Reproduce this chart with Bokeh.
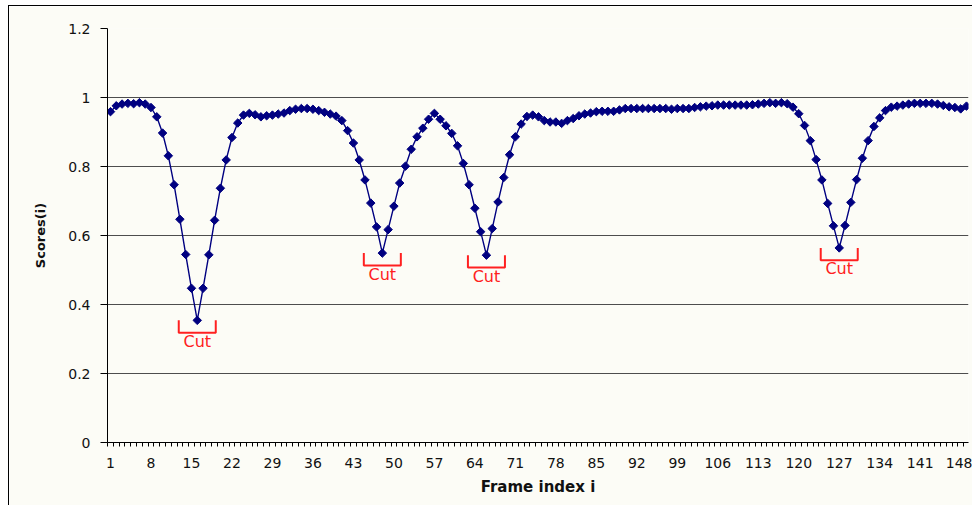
from bokeh.plotting import figure
from bokeh.models import FixedTicker, CustomJSTickFormatter, ColumnDataSource, Range1d
from bokeh.core.properties import value
from bokeh.embed import file_html
from bokeh.resources import INLINE

# ---- data ----
frames = list(range(1, 150))
scores = [
    0.959, 0.976, 0.981, 0.983, 0.982, 0.985, 0.981, 0.971, 0.944, 0.897,
    0.831, 0.747, 0.647, 0.545, 0.447, 0.354, 0.447, 0.544, 0.644, 0.737,
    0.819, 0.884, 0.926, 0.949, 0.954, 0.950, 0.944, 0.947, 0.949, 0.952,
    0.955, 0.962, 0.966, 0.968, 0.968, 0.966, 0.962, 0.957, 0.952, 0.946,
    0.933, 0.904, 0.868, 0.819, 0.761, 0.694, 0.625, 0.549, 0.617, 0.685,
    0.752, 0.801, 0.850, 0.886, 0.911, 0.937, 0.954, 0.937, 0.918, 0.896,
    0.860, 0.809, 0.747, 0.679, 0.611, 0.543, 0.620, 0.697, 0.768, 0.834,
    0.886, 0.923, 0.945, 0.949, 0.944, 0.933, 0.929, 0.929, 0.925, 0.933,
    0.939, 0.947, 0.952, 0.955, 0.959, 0.960, 0.960, 0.960, 0.964, 0.968,
    0.968, 0.968, 0.968, 0.968, 0.968, 0.968, 0.968, 0.966, 0.968, 0.968,
    0.968, 0.971, 0.973, 0.975, 0.976, 0.978, 0.978, 0.978, 0.978, 0.978,
    0.978, 0.979, 0.981, 0.983, 0.985, 0.983, 0.985, 0.982, 0.972, 0.953,
    0.919, 0.875, 0.820, 0.761, 0.693, 0.628, 0.564, 0.629, 0.696, 0.762,
    0.824, 0.875, 0.916, 0.941, 0.962, 0.972, 0.975, 0.978, 0.981, 0.983,
    0.983, 0.983, 0.983, 0.981, 0.977, 0.973, 0.971, 0.967, 0.975,
]
cut_frames = [16, 48, 66, 127]
cut_label = "Cut"
x_tick_labels = [1, 8, 15, 22, 29, 36, 43, 50, 57, 64, 71, 78, 85, 92, 99,
                 106, 113, 120, 127, 134, 141, 148]
y_ticks = [0, 0.2, 0.4, 0.6, 0.8, 1.0, 1.2]

# ---- styles ----
BG = "#fcfcf6"
NAVY = "#000080"
RED = "#ff2020"
FONT = "DejaVu Sans"

p = figure(
    width=964, height=500,
    x_range=Range1d(0.481, 149.35), y_range=Range1d(0, 1.2),
    output_backend="svg", toolbar_location=None,
    min_border_left=98, min_border_right=5, min_border_top=22, min_border_bottom=64,
    background_fill_color=BG, border_fill_color=BG,
    styles={"border-left": "1px solid black", "border-top": "1px solid black",
            "margin-left": "8px", "margin-top": "5px"},
)
p.outline_line_color = None

# grid
p.xgrid.visible = False
p.ygrid.ticker = FixedTicker(ticks=y_ticks)
p.ygrid.grid_line_color = "#4d4d4d"
p.ygrid.grid_line_width = 1

# x axis
xa = p.xaxis[0]
xa.ticker = FixedTicker(ticks=x_tick_labels, minor_ticks=[k + 0.5 for k in range(0, 149)])
xa.major_tick_line_color = None
xa.major_tick_out = 0
xa.major_tick_in = 0
xa.minor_tick_out = 4
xa.minor_tick_in = 0
xa.minor_tick_line_color = "black"
xa.axis_line_color = "black"
xa.major_label_text_font = FONT
xa.major_label_text_font_size = "14px"
xa.major_label_text_color = "#111111"
xa.major_label_standoff = 11
xa.axis_label = "Frame index i"
xa.axis_label_text_font = FONT
xa.axis_label_text_font_style = "bold"
xa.axis_label_text_font_size = "15px"
xa.axis_label_text_color = "#111111"
xa.axis_label_standoff = 7

# y axis
ya = p.yaxis[0]
ya.ticker = FixedTicker(ticks=y_ticks)
ya.formatter = CustomJSTickFormatter(code="return String(Math.round(tick*10)/10);")
ya.major_tick_out = 7
ya.major_tick_in = 0
ya.minor_tick_line_color = None
ya.axis_line_color = "black"
ya.major_tick_line_color = "black"
ya.major_label_text_font = FONT
ya.major_label_text_font_size = "14px"
ya.major_label_text_color = "#111111"
ya.major_label_standoff = 10
ya.axis_label = "Scores(i)"
ya.axis_label_text_font = FONT
ya.axis_label_text_font_style = "bold"
ya.axis_label_text_font_size = "13px"
ya.axis_label_text_color = "#111111"
ya.axis_label_standoff = 17

# series
src = ColumnDataSource(dict(x=frames, y=scores))
p.line("x", "y", source=src, line_color=NAVY, line_width=1.4)
p.scatter("x", "y", source=src, marker="square", angle=0.785398, size=6,
          fill_color=NAVY, line_color=NAVY)

# cut brackets
hw = 3.2
depth = 0.036
xs, ys, tx, ty, tt = [], [], [], [], []
for c in cut_frames:
    top = scores[c - 1]
    xs.append([c - hw, c - hw, c + hw, c + hw])
    ys.append([top, top - depth, top - depth, top])
    tx.append(c)
    ty.append(top - 0.061)
    tt.append(cut_label)
p.multi_line(xs, ys, line_color=RED, line_width=2)
p.text(tx, ty, text=tt, text_color=RED, text_font=value(FONT),
       text_font_size="16px", text_align="center", text_baseline="middle")

open("out.html", "w").write(file_html(p, INLINE))
